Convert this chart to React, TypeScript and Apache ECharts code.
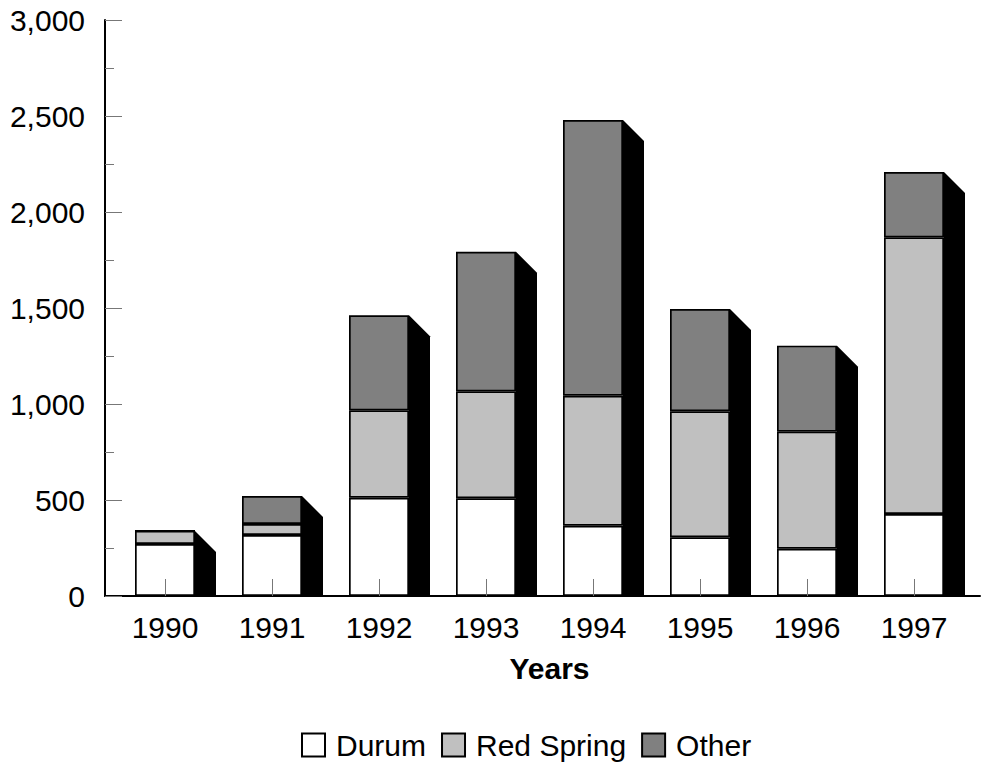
import React, { useEffect, useRef } from "react";
import * as echarts from "echarts";

const categories = ["1990", "1991", "1992", "1993", "1994", "1995", "1996", "1997"];
const durum = [271, 318, 512, 509, 366, 306, 246, 427];
const redSpring = [68, 57, 455, 557, 677, 656, 610, 1441];
const other = [0, 146, 495, 727, 1436, 533, 448, 340];
const yTicks = [0, 500, 1000, 1500, 2000, 2500, 3000];

const FONT = "'Liberation Sans', Arial, Helvetica, sans-serif";
const BAR_W = 60;
const DEPTH = 21;

export default function App() {
  const ref = useRef<HTMLDivElement>(null);
  useEffect(() => {
    if (!ref.current) return;
    const chart = echarts.init(ref.current, null, { renderer: "svg" });
    const totals = categories.map((_, i) => durum[i] + redSpring[i] + other[i]);
    const barStyle = (color: string) => ({ color, borderColor: "#000", borderWidth: 1.7 });
    const option = {
      animation: false,
      backgroundColor: "#fff",
      grid: [
        { left: 105, right: 7, top: 20, bottom: 170 },
        { left: 111.5, width: 856, top: 20, bottom: 170 },
      ],
      xAxis: [
        {
          type: "value",
          gridIndex: 0,
          min: 0,
          max: 1,
          axisLine: { show: true, lineStyle: { color: "#000", width: 2 } },
          axisTick: { show: false },
          axisLabel: { show: false },
          splitLine: { show: false },
        },
        {
          type: "category",
          gridIndex: 1,
          data: categories,
          z: 10,
          axisLine: { show: false },
          axisTick: { show: true, inside: true, length: 17, alignWithLabel: true, lineStyle: { color: "#777", width: 1 } },
          axisLabel: { color: "#000", fontSize: 30, fontFamily: FONT, margin: 16 },
          name: "Years",
          nameLocation: "middle",
          nameGap: 57,
          nameTextStyle: { color: "#000", fontSize: 30, fontWeight: "bold", fontFamily: FONT, padding: [0, 0, 0, 20] },
        },
      ],
      yAxis: [
        {
          type: "value",
          gridIndex: 0,
          min: yTicks[0],
          max: yTicks[yTicks.length - 1],
          interval: 500,
          axisLine: { show: true, lineStyle: { color: "#000", width: 2 } },
          axisTick: { show: true, inside: true, length: 17, lineStyle: { color: "#777", width: 1 } },
          minorTick: { show: true, splitNumber: 2, length: 9, lineStyle: { color: "#777", width: 1 } },
          axisLabel: {
            color: "#000",
            fontSize: 30,
            fontFamily: FONT,
            margin: 20,
            formatter: (v: number) => v.toLocaleString("en-US"),
          },
          splitLine: { show: false },
        },
        {
          type: "value",
          gridIndex: 1,
          min: yTicks[0],
          max: yTicks[yTicks.length - 1],
          interval: 500,
          show: false,
        },
      ],
      legend: {
        data: ["Durum", "Red Spring", "Other"],
        left: 296,
        top: 725,
        icon: "rect",
        itemWidth: 23,
        itemHeight: 23,
        itemGap: 15,
        textStyle: { color: "#000", fontSize: 30, fontFamily: FONT, padding: [0, 0, 0, 6] },
      },
      series: [
        {
          type: "custom",
          xAxisIndex: 1,
          yAxisIndex: 1,
          z: 1,
          silent: true,
          data: categories.map((_, i) => [i, totals[i]]),
          renderItem: (params: any, api: any) => {
            const top = api.coord([api.value(0), api.value(1)]);
            const base = api.coord([api.value(0), 0]);
            const xr = top[0] + BAR_W / 2;
            return {
              type: "polygon",
              shape: {
                points: [
                  [xr, top[1]],
                  [xr + DEPTH, top[1] + DEPTH],
                  [xr + DEPTH, base[1]],
                  [xr, base[1]],
                ],
              },
              style: { fill: "#000" },
            };
          },
        },
        {
          name: "Durum",
          type: "bar",
          stack: "total",
          xAxisIndex: 1,
          yAxisIndex: 1,
          barWidth: BAR_W,
          z: 3,
          data: durum,
          itemStyle: barStyle("#ffffff"),
        },
        {
          name: "Red Spring",
          type: "bar",
          stack: "total",
          xAxisIndex: 1,
          yAxisIndex: 1,
          barWidth: BAR_W,
          z: 3,
          data: redSpring,
          itemStyle: barStyle("#c0c0c0"),
        },
        {
          name: "Other",
          type: "bar",
          stack: "total",
          xAxisIndex: 1,
          yAxisIndex: 1,
          barWidth: BAR_W,
          z: 3,
          data: other,
          itemStyle: barStyle("#808080"),
        },
      ],
    };
    chart.setOption(option as any);
    return () => chart.dispose();
  }, []);
  return (
    <div
      ref={ref}
      style={{ position: "fixed", left: 0, top: 0, width: 987, height: 766, background: "#fff" }}
    />
  );
}
